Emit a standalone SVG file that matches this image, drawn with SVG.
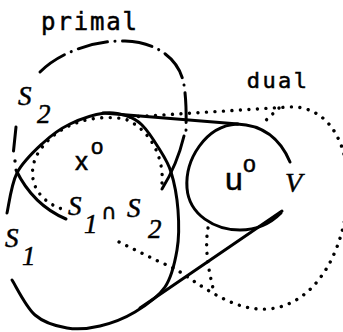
<svg xmlns="http://www.w3.org/2000/svg" width="343" height="332" viewBox="0 0 343 332">
<style>
.s{fill:none;stroke:#000;stroke-width:3;stroke-linecap:round;stroke-linejoin:round}
.dd{fill:none;stroke:#000;stroke-width:3;stroke-linecap:round;stroke-dasharray:30 7.5 0.1 7.5}
.dt{fill:none;stroke:#000;stroke-width:3.4;stroke-linecap:round;stroke-dasharray:0.01 8.5}
text{fill:#000;stroke:#000;stroke-width:0.5}
.mono{font-family:"DejaVu Sans Mono","Liberation Mono",monospace}
.it{font-family:"Liberation Serif","DejaVu Serif",serif;font-style:italic;font-size:27px}
.sans{font-family:"Liberation Sans","DejaVu Sans",sans-serif}
</style>
<rect width="343" height="332" fill="#fff"/>
<g id="dual-set">
<path class="dt" d="M162,183 C164,160 152,130 125,119 C95,114 60,122 40,150 C25,172 32,200 65,210"/>
<path class="dt" d="M130,117 L288,107 C320,105 345,130 348,180 C350,240 320,305 268,309 C240,311 215,295 195,282 C185,275 175,268 162,263 L117,241"/>
<path class="dt" d="M279,108 L263,123"/>
<path class="dt" d="M208,228 C205,245 207,265 214,292"/>
</g>
<g id="set-S2">
<path class="dd" d="M40,72 C60,52 95,40 125,41 C158,42 180,60 184,85 C187,105 186,120 186,134"/>
<path class="s" d="M16,127 L13.5,151"/>
<circle cx="15" cy="161" r="1.7" fill="#000"/>
<path class="s" d="M16,170 Q33,205 66,219"/>
<path class="s" d="M184,136 Q177,165 162,189"/>
</g>
<g id="set-S1">
<path class="s" d="M7,213 C8.7,206.3 11,184.7 17,173 C23,161.3 34.2,151.2 43,143 C51.8,134.8 59.7,129 70,124 C80.3,119 95.5,114.3 105,113 C114.5,111.7 120.8,114 127,116 C133.2,118 136.8,119.8 142,125 C147.2,130.2 153.2,139.2 158,147 C162.8,154.8 167.7,161.5 171,172 C174.3,182.5 177,197 178,210 C179,223 179.2,237.2 177,250 C174.8,262.8 172,276.7 165,287 C158,297.3 145.8,305.5 135,312 C124.2,318.5 111.3,323.3 100,326 C88.7,328.7 77.8,329.8 67,328 C56.2,326.2 44.2,323 35,315 C25.8,307 15.8,285.8 12,280"/>
</g>
<g id="set-V">
<path class="s" d="M290,162 C280,138 262,125 237,124 C205,126 185,160 187,188 C189,215 215,230 240,230 C258,230 272,222 281,213"/>
</g>
<g id="connectors">
<path class="s" d="M103,113 L238,124"/>
<path class="s" d="M282,211 L140,308"/>
</g>
<g id="labels">
<text class="mono" x="41.1" y="30" font-size="24" letter-spacing="1.85">primal</text>
<text class="mono" x="246.7" y="88" font-size="22" letter-spacing="2.46">dual</text>
<text class="it" x="18" y="105">S</text>
<text class="it" x="37" y="123">2</text>
<text class="it" x="5" y="247">S</text>
<text class="it" x="22" y="265">1</text>
<text class="it" x="68" y="215">S</text>
<text class="it" x="84" y="233">1</text>
<text x="101" y="219" font-size="21" font-family="DejaVu Sans, sans-serif">∩</text>
<text class="it" x="127" y="217">S</text>
<text class="it" x="148" y="238">2</text>
<text class="sans" x="75" y="170" font-size="26">x</text>
<text class="sans" x="91" y="153.5" font-size="22">o</text>
<text class="sans" x="225" y="190" font-size="32">u</text>
<text class="sans" x="243" y="172" font-size="23">o</text>
<text class="it" x="285" y="192" style="font-size:28px">V</text>
</g>
</svg>
